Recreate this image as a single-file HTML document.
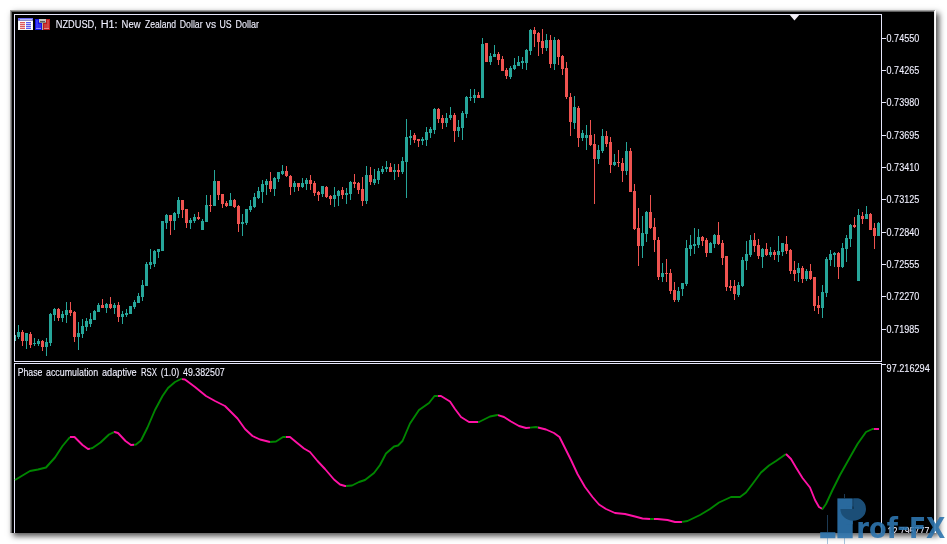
<!DOCTYPE html>
<html lang="en"><head><meta charset="utf-8"><title>NZDUSD, H1</title>
<style>
html,body{margin:0;padding:0;background:#fff;}
body{width:947px;height:544px;overflow:hidden;position:relative;font-family:"Liberation Sans",sans-serif;}
#win{position:absolute;left:10px;top:10px;width:926px;height:523px;background:#000;box-shadow:3px 3px 6px rgba(0,0,0,.7);}
svg{position:absolute;left:0;top:0;}
.t{font-family:"Liberation Sans",sans-serif;font-size:10px;fill:#f0f0ff;stroke:#f0f0ff;stroke-width:.1px;}
.wm{font-family:"DejaVu Sans","Liberation Sans",sans-serif;font-weight:bold;font-size:28px;fill:#2e75ae;}
</style></head><body>
<div id="win"></div>
<svg width="947" height="544" viewBox="0 0 947 544">
<g shape-rendering="crispEdges">
<rect x="10" y="10" width="926" height="1" fill="#a0a0a0"/>
<rect x="10" y="11" width="925" height="1" fill="#606060"/>
<rect x="10" y="10" width="1" height="523" fill="#a0a0a0"/>
<rect x="11" y="11" width="1" height="522" fill="#606060"/>
<rect x="934" y="11" width="1" height="522" fill="#eeeeee"/>
<rect x="935" y="10" width="1" height="523" fill="#ffffff"/>
<rect x="14" y="14" width="868" height="1" fill="#e6e6fa"/>
<rect x="14" y="14" width="1" height="348" fill="#e6e6fa"/>
<rect x="14" y="363" width="1" height="170" fill="#e6e6fa"/>
<rect x="14" y="361" width="868" height="1" fill="#e6e6fa"/>
<rect x="14" y="363" width="868" height="1" fill="#e6e6fa"/>
<rect x="881" y="14" width="1" height="348" fill="#e6e6fa"/>
<rect x="881" y="363" width="1" height="170" fill="#e6e6fa"/>
<rect x="882" y="38" width="4" height="1" fill="#e6e6fa"/>
<rect x="882" y="70" width="4" height="1" fill="#e6e6fa"/>
<rect x="882" y="102" width="4" height="1" fill="#e6e6fa"/>
<rect x="882" y="135" width="4" height="1" fill="#e6e6fa"/>
<rect x="882" y="167" width="4" height="1" fill="#e6e6fa"/>
<rect x="882" y="199" width="4" height="1" fill="#e6e6fa"/>
<rect x="882" y="232" width="4" height="1" fill="#e6e6fa"/>
<rect x="882" y="264" width="4" height="1" fill="#e6e6fa"/>
<rect x="882" y="296" width="4" height="1" fill="#e6e6fa"/>
<rect x="882" y="329" width="4" height="1" fill="#e6e6fa"/>
<rect x="882" y="364" width="4" height="1" fill="#e6e6fa"/>
</g>
<path d="M789.4 14.6 L799.6 14.6 L794.5 20.4 Z" fill="#f2eef4"/>
<g shape-rendering="crispEdges">
<rect x="15" y="335" width="1" height="6" fill="#4fc0b5"/>
<rect x="18" y="325" width="1" height="14" fill="#26a69a"/>
<rect x="17" y="332" width="3" height="5" fill="#26a69a"/>
<rect x="22" y="330" width="1" height="16" fill="#ef5350"/>
<rect x="21" y="332" width="3" height="9" fill="#ef5350"/>
<rect x="26" y="333" width="1" height="16" fill="#26a69a"/>
<rect x="25" y="333" width="3" height="8" fill="#26a69a"/>
<rect x="30" y="332" width="1" height="16" fill="#ef5350"/>
<rect x="29" y="334" width="3" height="11" fill="#ef5350"/>
<rect x="34" y="338" width="1" height="8" fill="#26a69a"/>
<rect x="33" y="343" width="3" height="1" fill="#26a69a"/>
<rect x="38" y="339" width="1" height="7" fill="#26a69a"/>
<rect x="37" y="341" width="3" height="3" fill="#26a69a"/>
<rect x="42" y="340" width="1" height="11" fill="#ef5350"/>
<rect x="41" y="341" width="3" height="6" fill="#ef5350"/>
<rect x="46" y="338" width="1" height="18" fill="#26a69a"/>
<rect x="45" y="342" width="3" height="5" fill="#26a69a"/>
<rect x="50" y="313" width="1" height="33" fill="#26a69a"/>
<rect x="49" y="314" width="3" height="29" fill="#26a69a"/>
<rect x="54" y="308" width="1" height="13" fill="#26a69a"/>
<rect x="53" y="309" width="3" height="6" fill="#26a69a"/>
<rect x="58" y="308" width="1" height="13" fill="#ef5350"/>
<rect x="57" y="309" width="3" height="9" fill="#ef5350"/>
<rect x="62" y="311" width="1" height="11" fill="#26a69a"/>
<rect x="61" y="314" width="3" height="4" fill="#26a69a"/>
<rect x="66" y="302" width="1" height="21" fill="#26a69a"/>
<rect x="65" y="310" width="3" height="5" fill="#26a69a"/>
<rect x="70" y="302" width="1" height="14" fill="#ef5350"/>
<rect x="69" y="310" width="3" height="3" fill="#ef5350"/>
<rect x="74" y="311" width="1" height="31" fill="#ef5350"/>
<rect x="73" y="312" width="3" height="25" fill="#ef5350"/>
<rect x="78" y="322" width="1" height="28" fill="#26a69a"/>
<rect x="77" y="333" width="3" height="4" fill="#26a69a"/>
<rect x="82" y="319" width="1" height="19" fill="#26a69a"/>
<rect x="81" y="326" width="3" height="8" fill="#26a69a"/>
<rect x="86" y="318" width="1" height="13" fill="#26a69a"/>
<rect x="85" y="321" width="3" height="6" fill="#26a69a"/>
<rect x="90" y="313" width="1" height="14" fill="#26a69a"/>
<rect x="89" y="319" width="3" height="5" fill="#26a69a"/>
<rect x="94" y="310" width="1" height="10" fill="#26a69a"/>
<rect x="93" y="311" width="3" height="9" fill="#26a69a"/>
<rect x="98" y="303" width="1" height="9" fill="#26a69a"/>
<rect x="97" y="305" width="3" height="7" fill="#26a69a"/>
<rect x="102" y="299" width="1" height="9" fill="#ef5350"/>
<rect x="101" y="305" width="3" height="3" fill="#ef5350"/>
<rect x="106" y="303" width="1" height="10" fill="#26a69a"/>
<rect x="105" y="304" width="3" height="4" fill="#26a69a"/>
<rect x="110" y="297" width="1" height="12" fill="#ef5350"/>
<rect x="109" y="304" width="3" height="4" fill="#ef5350"/>
<rect x="114" y="303" width="1" height="11" fill="#26a69a"/>
<rect x="113" y="305" width="3" height="3" fill="#26a69a"/>
<rect x="118" y="302" width="1" height="20" fill="#ef5350"/>
<rect x="117" y="305" width="3" height="12" fill="#ef5350"/>
<rect x="122" y="311" width="1" height="13" fill="#26a69a"/>
<rect x="121" y="314" width="3" height="3" fill="#26a69a"/>
<rect x="126" y="309" width="1" height="8" fill="#26a69a"/>
<rect x="125" y="313" width="3" height="2" fill="#26a69a"/>
<rect x="130" y="306" width="1" height="8" fill="#26a69a"/>
<rect x="129" y="306" width="3" height="8" fill="#26a69a"/>
<rect x="134" y="300" width="1" height="9" fill="#26a69a"/>
<rect x="133" y="302" width="3" height="5" fill="#26a69a"/>
<rect x="138" y="293" width="1" height="10" fill="#26a69a"/>
<rect x="137" y="296" width="3" height="7" fill="#26a69a"/>
<rect x="142" y="280" width="1" height="21" fill="#26a69a"/>
<rect x="141" y="285" width="3" height="12" fill="#26a69a"/>
<rect x="146" y="262" width="1" height="24" fill="#26a69a"/>
<rect x="145" y="264" width="3" height="22" fill="#26a69a"/>
<rect x="150" y="249" width="1" height="20" fill="#26a69a"/>
<rect x="149" y="262" width="3" height="3" fill="#26a69a"/>
<rect x="154" y="250" width="1" height="17" fill="#26a69a"/>
<rect x="153" y="251" width="3" height="13" fill="#26a69a"/>
<rect x="158" y="249" width="1" height="9" fill="#26a69a"/>
<rect x="157" y="249" width="3" height="3" fill="#26a69a"/>
<rect x="162" y="221" width="1" height="30" fill="#26a69a"/>
<rect x="161" y="221" width="3" height="30" fill="#26a69a"/>
<rect x="166" y="214" width="1" height="15" fill="#26a69a"/>
<rect x="165" y="215" width="3" height="8" fill="#26a69a"/>
<rect x="170" y="215" width="1" height="20" fill="#ef5350"/>
<rect x="169" y="215" width="3" height="6" fill="#ef5350"/>
<rect x="174" y="212" width="1" height="18" fill="#26a69a"/>
<rect x="173" y="213" width="3" height="8" fill="#26a69a"/>
<rect x="178" y="197" width="1" height="21" fill="#26a69a"/>
<rect x="177" y="200" width="3" height="14" fill="#26a69a"/>
<rect x="182" y="200" width="1" height="18" fill="#ef5350"/>
<rect x="181" y="200" width="3" height="10" fill="#ef5350"/>
<rect x="186" y="209" width="1" height="19" fill="#ef5350"/>
<rect x="185" y="209" width="3" height="14" fill="#ef5350"/>
<rect x="190" y="218" width="1" height="11" fill="#26a69a"/>
<rect x="189" y="220" width="3" height="3" fill="#26a69a"/>
<rect x="194" y="214" width="1" height="9" fill="#26a69a"/>
<rect x="193" y="217" width="3" height="4" fill="#26a69a"/>
<rect x="198" y="212" width="1" height="8" fill="#ef5350"/>
<rect x="197" y="217" width="3" height="2" fill="#ef5350"/>
<rect x="202" y="219" width="1" height="11" fill="#26a69a"/>
<rect x="201" y="221" width="3" height="9" fill="#26a69a"/>
<rect x="206" y="195" width="1" height="27" fill="#26a69a"/>
<rect x="205" y="205" width="3" height="17" fill="#26a69a"/>
<rect x="210" y="195" width="1" height="17" fill="#ef5350"/>
<rect x="209" y="205" width="3" height="1" fill="#ef5350"/>
<rect x="214" y="170" width="1" height="36" fill="#26a69a"/>
<rect x="213" y="181" width="3" height="25" fill="#26a69a"/>
<rect x="218" y="181" width="1" height="19" fill="#ef5350"/>
<rect x="217" y="181" width="3" height="14" fill="#ef5350"/>
<rect x="222" y="194" width="1" height="14" fill="#ef5350"/>
<rect x="221" y="194" width="3" height="10" fill="#ef5350"/>
<rect x="226" y="201" width="1" height="6" fill="#ef5350"/>
<rect x="225" y="203" width="3" height="3" fill="#ef5350"/>
<rect x="230" y="193" width="1" height="13" fill="#26a69a"/>
<rect x="229" y="200" width="3" height="6" fill="#26a69a"/>
<rect x="234" y="199" width="1" height="9" fill="#ef5350"/>
<rect x="233" y="200" width="3" height="7" fill="#ef5350"/>
<rect x="238" y="205" width="1" height="27" fill="#ef5350"/>
<rect x="237" y="206" width="3" height="18" fill="#ef5350"/>
<rect x="242" y="214" width="1" height="22" fill="#26a69a"/>
<rect x="241" y="222" width="3" height="2" fill="#26a69a"/>
<rect x="246" y="209" width="1" height="16" fill="#26a69a"/>
<rect x="245" y="209" width="3" height="14" fill="#26a69a"/>
<rect x="250" y="200" width="1" height="12" fill="#26a69a"/>
<rect x="249" y="206" width="3" height="4" fill="#26a69a"/>
<rect x="254" y="193" width="1" height="15" fill="#26a69a"/>
<rect x="253" y="197" width="3" height="10" fill="#26a69a"/>
<rect x="258" y="187" width="1" height="12" fill="#26a69a"/>
<rect x="257" y="191" width="3" height="7" fill="#26a69a"/>
<rect x="262" y="180" width="1" height="23" fill="#26a69a"/>
<rect x="261" y="184" width="3" height="8" fill="#26a69a"/>
<rect x="266" y="179" width="1" height="16" fill="#26a69a"/>
<rect x="265" y="181" width="3" height="4" fill="#26a69a"/>
<rect x="270" y="172" width="1" height="20" fill="#ef5350"/>
<rect x="269" y="181" width="3" height="8" fill="#ef5350"/>
<rect x="274" y="177" width="1" height="19" fill="#26a69a"/>
<rect x="273" y="178" width="3" height="11" fill="#26a69a"/>
<rect x="278" y="172" width="1" height="10" fill="#26a69a"/>
<rect x="277" y="172" width="3" height="7" fill="#26a69a"/>
<rect x="282" y="165" width="1" height="10" fill="#26a69a"/>
<rect x="281" y="171" width="3" height="3" fill="#26a69a"/>
<rect x="286" y="166" width="1" height="11" fill="#ef5350"/>
<rect x="285" y="171" width="3" height="5" fill="#ef5350"/>
<rect x="290" y="175" width="1" height="20" fill="#ef5350"/>
<rect x="289" y="176" width="3" height="11" fill="#ef5350"/>
<rect x="294" y="181" width="1" height="11" fill="#26a69a"/>
<rect x="293" y="183" width="3" height="4" fill="#26a69a"/>
<rect x="298" y="183" width="1" height="8" fill="#ef5350"/>
<rect x="297" y="183" width="3" height="4" fill="#ef5350"/>
<rect x="302" y="178" width="1" height="10" fill="#26a69a"/>
<rect x="301" y="183" width="3" height="4" fill="#26a69a"/>
<rect x="306" y="178" width="1" height="12" fill="#26a69a"/>
<rect x="305" y="180" width="3" height="4" fill="#26a69a"/>
<rect x="310" y="175" width="1" height="15" fill="#ef5350"/>
<rect x="309" y="180" width="3" height="4" fill="#ef5350"/>
<rect x="314" y="181" width="1" height="15" fill="#ef5350"/>
<rect x="313" y="183" width="3" height="10" fill="#ef5350"/>
<rect x="318" y="191" width="1" height="10" fill="#ef5350"/>
<rect x="317" y="192" width="3" height="3" fill="#ef5350"/>
<rect x="322" y="186" width="1" height="11" fill="#26a69a"/>
<rect x="321" y="186" width="3" height="8" fill="#26a69a"/>
<rect x="326" y="186" width="1" height="12" fill="#ef5350"/>
<rect x="325" y="187" width="3" height="10" fill="#ef5350"/>
<rect x="330" y="195" width="1" height="10" fill="#ef5350"/>
<rect x="329" y="196" width="3" height="3" fill="#ef5350"/>
<rect x="334" y="187" width="1" height="20" fill="#26a69a"/>
<rect x="333" y="195" width="3" height="4" fill="#26a69a"/>
<rect x="338" y="190" width="1" height="16" fill="#26a69a"/>
<rect x="337" y="191" width="3" height="5" fill="#26a69a"/>
<rect x="342" y="187" width="1" height="12" fill="#ef5350"/>
<rect x="341" y="190" width="3" height="5" fill="#ef5350"/>
<rect x="346" y="188" width="1" height="16" fill="#26a69a"/>
<rect x="345" y="193" width="3" height="2" fill="#26a69a"/>
<rect x="350" y="181" width="1" height="19" fill="#26a69a"/>
<rect x="349" y="182" width="3" height="12" fill="#26a69a"/>
<rect x="354" y="174" width="1" height="14" fill="#ef5350"/>
<rect x="353" y="182" width="3" height="2" fill="#ef5350"/>
<rect x="358" y="182" width="1" height="12" fill="#ef5350"/>
<rect x="357" y="183" width="3" height="7" fill="#ef5350"/>
<rect x="362" y="177" width="1" height="29" fill="#ef5350"/>
<rect x="361" y="189" width="3" height="12" fill="#ef5350"/>
<rect x="366" y="166" width="1" height="38" fill="#26a69a"/>
<rect x="365" y="175" width="3" height="26" fill="#26a69a"/>
<rect x="370" y="167" width="1" height="18" fill="#ef5350"/>
<rect x="369" y="175" width="3" height="7" fill="#ef5350"/>
<rect x="374" y="169" width="1" height="16" fill="#26a69a"/>
<rect x="373" y="179" width="3" height="4" fill="#26a69a"/>
<rect x="378" y="168" width="1" height="16" fill="#26a69a"/>
<rect x="377" y="171" width="3" height="9" fill="#26a69a"/>
<rect x="382" y="166" width="1" height="8" fill="#26a69a"/>
<rect x="381" y="169" width="3" height="3" fill="#26a69a"/>
<rect x="386" y="161" width="1" height="11" fill="#26a69a"/>
<rect x="385" y="167" width="3" height="2" fill="#26a69a"/>
<rect x="390" y="163" width="1" height="9" fill="#ef5350"/>
<rect x="389" y="167" width="3" height="5" fill="#ef5350"/>
<rect x="394" y="164" width="1" height="16" fill="#26a69a"/>
<rect x="393" y="170" width="3" height="2" fill="#26a69a"/>
<rect x="398" y="164" width="1" height="13" fill="#ef5350"/>
<rect x="397" y="170" width="3" height="2" fill="#ef5350"/>
<rect x="402" y="157" width="1" height="17" fill="#26a69a"/>
<rect x="401" y="161" width="3" height="11" fill="#26a69a"/>
<rect x="406" y="119" width="1" height="79" fill="#26a69a"/>
<rect x="405" y="137" width="3" height="25" fill="#26a69a"/>
<rect x="410" y="130" width="1" height="15" fill="#26a69a"/>
<rect x="409" y="136" width="3" height="2" fill="#26a69a"/>
<rect x="414" y="133" width="1" height="10" fill="#ef5350"/>
<rect x="413" y="135" width="3" height="5" fill="#ef5350"/>
<rect x="418" y="139" width="1" height="8" fill="#ef5350"/>
<rect x="417" y="139" width="3" height="2" fill="#ef5350"/>
<rect x="422" y="137" width="1" height="8" fill="#26a69a"/>
<rect x="421" y="139" width="3" height="2" fill="#26a69a"/>
<rect x="426" y="127" width="1" height="19" fill="#26a69a"/>
<rect x="425" y="132" width="3" height="8" fill="#26a69a"/>
<rect x="430" y="127" width="1" height="11" fill="#26a69a"/>
<rect x="429" y="129" width="3" height="4" fill="#26a69a"/>
<rect x="434" y="108" width="1" height="26" fill="#26a69a"/>
<rect x="433" y="109" width="3" height="21" fill="#26a69a"/>
<rect x="438" y="108" width="1" height="15" fill="#ef5350"/>
<rect x="437" y="109" width="3" height="10" fill="#ef5350"/>
<rect x="442" y="115" width="1" height="14" fill="#ef5350"/>
<rect x="441" y="118" width="3" height="5" fill="#ef5350"/>
<rect x="446" y="113" width="1" height="14" fill="#26a69a"/>
<rect x="445" y="118" width="3" height="5" fill="#26a69a"/>
<rect x="450" y="107" width="1" height="13" fill="#26a69a"/>
<rect x="449" y="115" width="3" height="3" fill="#26a69a"/>
<rect x="454" y="113" width="1" height="29" fill="#ef5350"/>
<rect x="453" y="115" width="3" height="16" fill="#ef5350"/>
<rect x="458" y="120" width="1" height="17" fill="#26a69a"/>
<rect x="457" y="127" width="3" height="4" fill="#26a69a"/>
<rect x="462" y="111" width="1" height="29" fill="#26a69a"/>
<rect x="461" y="113" width="3" height="15" fill="#26a69a"/>
<rect x="466" y="96" width="1" height="22" fill="#26a69a"/>
<rect x="465" y="97" width="3" height="17" fill="#26a69a"/>
<rect x="470" y="89" width="1" height="12" fill="#26a69a"/>
<rect x="469" y="97" width="3" height="1" fill="#26a69a"/>
<rect x="474" y="89" width="1" height="14" fill="#26a69a"/>
<rect x="473" y="95" width="3" height="3" fill="#26a69a"/>
<rect x="478" y="92" width="1" height="6" fill="#ef5350"/>
<rect x="477" y="95" width="3" height="3" fill="#ef5350"/>
<rect x="482" y="38" width="1" height="60" fill="#26a69a"/>
<rect x="481" y="44" width="3" height="54" fill="#26a69a"/>
<rect x="486" y="43" width="1" height="19" fill="#ef5350"/>
<rect x="485" y="43" width="3" height="19" fill="#ef5350"/>
<rect x="490" y="53" width="1" height="12" fill="#26a69a"/>
<rect x="489" y="56" width="3" height="6" fill="#26a69a"/>
<rect x="494" y="45" width="1" height="12" fill="#26a69a"/>
<rect x="493" y="54" width="3" height="3" fill="#26a69a"/>
<rect x="498" y="52" width="1" height="13" fill="#ef5350"/>
<rect x="497" y="54" width="3" height="6" fill="#ef5350"/>
<rect x="502" y="56" width="1" height="15" fill="#ef5350"/>
<rect x="501" y="59" width="3" height="12" fill="#ef5350"/>
<rect x="506" y="68" width="1" height="11" fill="#ef5350"/>
<rect x="505" y="70" width="3" height="6" fill="#ef5350"/>
<rect x="510" y="66" width="1" height="13" fill="#26a69a"/>
<rect x="509" y="68" width="3" height="9" fill="#26a69a"/>
<rect x="514" y="58" width="1" height="12" fill="#26a69a"/>
<rect x="513" y="65" width="3" height="4" fill="#26a69a"/>
<rect x="518" y="56" width="1" height="10" fill="#26a69a"/>
<rect x="517" y="62" width="3" height="4" fill="#26a69a"/>
<rect x="522" y="57" width="1" height="12" fill="#26a69a"/>
<rect x="521" y="61" width="3" height="2" fill="#26a69a"/>
<rect x="526" y="49" width="1" height="21" fill="#26a69a"/>
<rect x="525" y="50" width="3" height="13" fill="#26a69a"/>
<rect x="530" y="29" width="1" height="26" fill="#26a69a"/>
<rect x="529" y="30" width="3" height="21" fill="#26a69a"/>
<rect x="534" y="27" width="1" height="20" fill="#ef5350"/>
<rect x="533" y="30" width="3" height="4" fill="#ef5350"/>
<rect x="538" y="32" width="1" height="24" fill="#ef5350"/>
<rect x="537" y="33" width="3" height="9" fill="#ef5350"/>
<rect x="542" y="29" width="1" height="25" fill="#ef5350"/>
<rect x="541" y="41" width="3" height="7" fill="#ef5350"/>
<rect x="546" y="34" width="1" height="17" fill="#26a69a"/>
<rect x="545" y="40" width="3" height="8" fill="#26a69a"/>
<rect x="550" y="35" width="1" height="33" fill="#ef5350"/>
<rect x="549" y="40" width="3" height="24" fill="#ef5350"/>
<rect x="554" y="37" width="1" height="33" fill="#26a69a"/>
<rect x="553" y="40" width="3" height="24" fill="#26a69a"/>
<rect x="558" y="39" width="1" height="26" fill="#ef5350"/>
<rect x="557" y="40" width="3" height="17" fill="#ef5350"/>
<rect x="562" y="55" width="1" height="20" fill="#ef5350"/>
<rect x="561" y="56" width="3" height="13" fill="#ef5350"/>
<rect x="566" y="62" width="1" height="37" fill="#ef5350"/>
<rect x="565" y="68" width="3" height="29" fill="#ef5350"/>
<rect x="570" y="93" width="1" height="43" fill="#ef5350"/>
<rect x="569" y="97" width="3" height="25" fill="#ef5350"/>
<rect x="574" y="96" width="1" height="33" fill="#26a69a"/>
<rect x="573" y="107" width="3" height="16" fill="#26a69a"/>
<rect x="578" y="106" width="1" height="41" fill="#ef5350"/>
<rect x="577" y="108" width="3" height="30" fill="#ef5350"/>
<rect x="582" y="130" width="1" height="11" fill="#26a69a"/>
<rect x="581" y="133" width="3" height="5" fill="#26a69a"/>
<rect x="586" y="125" width="1" height="25" fill="#26a69a"/>
<rect x="585" y="135" width="3" height="3" fill="#26a69a"/>
<rect x="590" y="120" width="1" height="26" fill="#ef5350"/>
<rect x="589" y="135" width="3" height="10" fill="#ef5350"/>
<rect x="594" y="134" width="1" height="70" fill="#ef5350"/>
<rect x="593" y="144" width="3" height="15" fill="#ef5350"/>
<rect x="598" y="145" width="1" height="19" fill="#26a69a"/>
<rect x="597" y="150" width="3" height="9" fill="#26a69a"/>
<rect x="602" y="129" width="1" height="24" fill="#26a69a"/>
<rect x="601" y="136" width="3" height="15" fill="#26a69a"/>
<rect x="606" y="131" width="1" height="16" fill="#ef5350"/>
<rect x="605" y="136" width="3" height="8" fill="#ef5350"/>
<rect x="610" y="137" width="1" height="36" fill="#ef5350"/>
<rect x="609" y="142" width="3" height="23" fill="#ef5350"/>
<rect x="614" y="154" width="1" height="12" fill="#26a69a"/>
<rect x="613" y="162" width="3" height="3" fill="#26a69a"/>
<rect x="618" y="150" width="1" height="17" fill="#ef5350"/>
<rect x="617" y="162" width="3" height="1" fill="#ef5350"/>
<rect x="622" y="158" width="1" height="24" fill="#ef5350"/>
<rect x="621" y="163" width="3" height="8" fill="#ef5350"/>
<rect x="626" y="142" width="1" height="33" fill="#26a69a"/>
<rect x="625" y="151" width="3" height="20" fill="#26a69a"/>
<rect x="630" y="148" width="1" height="44" fill="#ef5350"/>
<rect x="629" y="151" width="3" height="41" fill="#ef5350"/>
<rect x="634" y="184" width="1" height="46" fill="#ef5350"/>
<rect x="633" y="191" width="3" height="38" fill="#ef5350"/>
<rect x="638" y="208" width="1" height="58" fill="#ef5350"/>
<rect x="637" y="228" width="3" height="18" fill="#ef5350"/>
<rect x="642" y="216" width="1" height="42" fill="#26a69a"/>
<rect x="641" y="233" width="3" height="13" fill="#26a69a"/>
<rect x="646" y="211" width="1" height="31" fill="#26a69a"/>
<rect x="645" y="212" width="3" height="22" fill="#26a69a"/>
<rect x="650" y="195" width="1" height="34" fill="#ef5350"/>
<rect x="649" y="212" width="3" height="16" fill="#ef5350"/>
<rect x="654" y="218" width="1" height="34" fill="#ef5350"/>
<rect x="653" y="227" width="3" height="13" fill="#ef5350"/>
<rect x="658" y="237" width="1" height="43" fill="#ef5350"/>
<rect x="657" y="240" width="3" height="37" fill="#ef5350"/>
<rect x="662" y="263" width="1" height="19" fill="#26a69a"/>
<rect x="661" y="273" width="3" height="4" fill="#26a69a"/>
<rect x="666" y="259" width="1" height="23" fill="#ef5350"/>
<rect x="665" y="273" width="3" height="1" fill="#ef5350"/>
<rect x="670" y="269" width="1" height="25" fill="#ef5350"/>
<rect x="669" y="273" width="3" height="18" fill="#ef5350"/>
<rect x="674" y="282" width="1" height="20" fill="#ef5350"/>
<rect x="673" y="290" width="3" height="10" fill="#ef5350"/>
<rect x="678" y="287" width="1" height="15" fill="#26a69a"/>
<rect x="677" y="291" width="3" height="9" fill="#26a69a"/>
<rect x="682" y="283" width="1" height="13" fill="#26a69a"/>
<rect x="681" y="283" width="3" height="6" fill="#26a69a"/>
<rect x="686" y="240" width="1" height="46" fill="#26a69a"/>
<rect x="685" y="248" width="3" height="36" fill="#26a69a"/>
<rect x="690" y="235" width="1" height="21" fill="#26a69a"/>
<rect x="689" y="245" width="3" height="4" fill="#26a69a"/>
<rect x="694" y="228" width="1" height="26" fill="#26a69a"/>
<rect x="693" y="244" width="3" height="2" fill="#26a69a"/>
<rect x="698" y="229" width="1" height="19" fill="#26a69a"/>
<rect x="697" y="237" width="3" height="8" fill="#26a69a"/>
<rect x="702" y="236" width="1" height="10" fill="#ef5350"/>
<rect x="701" y="237" width="3" height="4" fill="#ef5350"/>
<rect x="706" y="238" width="1" height="19" fill="#ef5350"/>
<rect x="705" y="240" width="3" height="13" fill="#ef5350"/>
<rect x="710" y="242" width="1" height="11" fill="#26a69a"/>
<rect x="709" y="243" width="3" height="10" fill="#26a69a"/>
<rect x="714" y="234" width="1" height="14" fill="#26a69a"/>
<rect x="713" y="235" width="3" height="9" fill="#26a69a"/>
<rect x="718" y="222" width="1" height="23" fill="#ef5350"/>
<rect x="717" y="235" width="3" height="9" fill="#ef5350"/>
<rect x="722" y="240" width="1" height="25" fill="#ef5350"/>
<rect x="721" y="243" width="3" height="15" fill="#ef5350"/>
<rect x="726" y="256" width="1" height="35" fill="#ef5350"/>
<rect x="725" y="256" width="3" height="31" fill="#ef5350"/>
<rect x="730" y="280" width="1" height="11" fill="#ef5350"/>
<rect x="729" y="286" width="3" height="2" fill="#ef5350"/>
<rect x="734" y="280" width="1" height="20" fill="#ef5350"/>
<rect x="733" y="286" width="3" height="8" fill="#ef5350"/>
<rect x="738" y="282" width="1" height="15" fill="#26a69a"/>
<rect x="737" y="285" width="3" height="10" fill="#26a69a"/>
<rect x="742" y="257" width="1" height="30" fill="#26a69a"/>
<rect x="741" y="260" width="3" height="26" fill="#26a69a"/>
<rect x="746" y="241" width="1" height="29" fill="#26a69a"/>
<rect x="745" y="254" width="3" height="7" fill="#26a69a"/>
<rect x="750" y="235" width="1" height="22" fill="#26a69a"/>
<rect x="749" y="240" width="3" height="15" fill="#26a69a"/>
<rect x="754" y="233" width="1" height="19" fill="#ef5350"/>
<rect x="753" y="240" width="3" height="6" fill="#ef5350"/>
<rect x="758" y="239" width="1" height="20" fill="#ef5350"/>
<rect x="757" y="245" width="3" height="11" fill="#ef5350"/>
<rect x="762" y="248" width="1" height="20" fill="#26a69a"/>
<rect x="761" y="249" width="3" height="8" fill="#26a69a"/>
<rect x="766" y="243" width="1" height="13" fill="#ef5350"/>
<rect x="765" y="249" width="3" height="6" fill="#ef5350"/>
<rect x="770" y="247" width="1" height="10" fill="#26a69a"/>
<rect x="769" y="252" width="3" height="3" fill="#26a69a"/>
<rect x="774" y="250" width="1" height="10" fill="#ef5350"/>
<rect x="773" y="252" width="3" height="3" fill="#ef5350"/>
<rect x="778" y="236" width="1" height="26" fill="#26a69a"/>
<rect x="777" y="251" width="3" height="4" fill="#26a69a"/>
<rect x="782" y="243" width="1" height="13" fill="#26a69a"/>
<rect x="781" y="243" width="3" height="9" fill="#26a69a"/>
<rect x="786" y="236" width="1" height="18" fill="#ef5350"/>
<rect x="785" y="244" width="3" height="7" fill="#ef5350"/>
<rect x="790" y="249" width="1" height="25" fill="#ef5350"/>
<rect x="789" y="250" width="3" height="21" fill="#ef5350"/>
<rect x="794" y="261" width="1" height="20" fill="#ef5350"/>
<rect x="793" y="270" width="3" height="4" fill="#ef5350"/>
<rect x="798" y="263" width="1" height="19" fill="#26a69a"/>
<rect x="797" y="268" width="3" height="5" fill="#26a69a"/>
<rect x="802" y="266" width="1" height="17" fill="#ef5350"/>
<rect x="801" y="268" width="3" height="11" fill="#ef5350"/>
<rect x="806" y="269" width="1" height="12" fill="#26a69a"/>
<rect x="805" y="271" width="3" height="8" fill="#26a69a"/>
<rect x="810" y="264" width="1" height="16" fill="#ef5350"/>
<rect x="809" y="271" width="3" height="8" fill="#ef5350"/>
<rect x="814" y="277" width="1" height="34" fill="#ef5350"/>
<rect x="813" y="277" width="3" height="29" fill="#ef5350"/>
<rect x="818" y="296" width="1" height="18" fill="#ef5350"/>
<rect x="817" y="305" width="3" height="3" fill="#ef5350"/>
<rect x="822" y="285" width="1" height="33" fill="#26a69a"/>
<rect x="821" y="292" width="3" height="16" fill="#26a69a"/>
<rect x="826" y="257" width="1" height="40" fill="#26a69a"/>
<rect x="825" y="259" width="3" height="34" fill="#26a69a"/>
<rect x="830" y="250" width="1" height="16" fill="#26a69a"/>
<rect x="829" y="254" width="3" height="6" fill="#26a69a"/>
<rect x="834" y="252" width="1" height="15" fill="#26a69a"/>
<rect x="833" y="253" width="3" height="2" fill="#26a69a"/>
<rect x="838" y="252" width="1" height="27" fill="#ef5350"/>
<rect x="837" y="253" width="3" height="14" fill="#ef5350"/>
<rect x="842" y="243" width="1" height="25" fill="#26a69a"/>
<rect x="841" y="248" width="3" height="19" fill="#26a69a"/>
<rect x="846" y="235" width="1" height="27" fill="#26a69a"/>
<rect x="845" y="238" width="3" height="11" fill="#26a69a"/>
<rect x="850" y="224" width="1" height="23" fill="#26a69a"/>
<rect x="849" y="225" width="3" height="14" fill="#26a69a"/>
<rect x="854" y="217" width="1" height="11" fill="#ef5350"/>
<rect x="853" y="225" width="3" height="2" fill="#ef5350"/>
<rect x="858" y="209" width="1" height="72" fill="#26a69a"/>
<rect x="857" y="215" width="3" height="66" fill="#26a69a"/>
<rect x="862" y="212" width="1" height="12" fill="#ef5350"/>
<rect x="861" y="216" width="3" height="3" fill="#ef5350"/>
<rect x="866" y="206" width="1" height="13" fill="#26a69a"/>
<rect x="865" y="214" width="3" height="5" fill="#26a69a"/>
<rect x="870" y="213" width="1" height="17" fill="#ef5350"/>
<rect x="869" y="214" width="3" height="16" fill="#ef5350"/>
<rect x="874" y="223" width="1" height="26" fill="#ef5350"/>
<rect x="873" y="228" width="3" height="8" fill="#ef5350"/>
<rect x="878" y="222" width="1" height="14" fill="#26a69a"/>
<rect x="877" y="223" width="3" height="13" fill="#26a69a"/>
</g>
<g fill="none" stroke-width="1.9" stroke-linejoin="round" stroke-linecap="butt">
<polyline points="15,480 22.5,475.5 30,471 38,469.5 46,467.5 55,457.5 62.5,446 70,437" stroke="#008600"/>
<polyline points="70,437 74.5,437 82.5,445 88,449 90,448.556" stroke="#ff12a6"/>
<polyline points="90,448.556 92.5,448 100.5,442.5 109,434.5 114,432.227" stroke="#008600"/>
<polyline points="114,432.227 114.5,432 118,433 125.5,441 131,445 134,444.7" stroke="#ff12a6"/>
<polyline points="134,444.7 136,444.5 141,440.5 147.5,427.5 155,410 162.5,396 168,388 175,382 181,379 182,379.125" stroke="#008600"/>
<polyline points="182,379.125 185,379.5 195,387 206,396 215,401 225,406 235,416 237.5,418.5 245,429 252.5,436 260,439.5 270,442" stroke="#ff12a6"/>
<polyline points="270,442 276,441.5 283,437 286,437" stroke="#008600"/>
<polyline points="286,437 290,437 296,442 304,448.5 310,452 317.5,461 325,469 334,479.5 340,484.5 345,486 346,485.929" stroke="#ff12a6"/>
<polyline points="346,485.929 352,485.5 359,482 365,480 374,473 380,465 386,453.5 394,446.5 398,445.5 402.5,441 410,423.5 419,410 429,403 434.5,396 438,396" stroke="#008600"/>
<polyline points="438,396 441,396 450,401.5 455,409 461,417 469,422 478,422" stroke="#ff12a6"/>
<polyline points="478,422 479,422 490,416.5 497.5,415 498,415.154" stroke="#008600"/>
<polyline points="498,415.154 504,417 511,421.5 519,426 526,428 530,427.6" stroke="#ff12a6"/>
<polyline points="530,427.6 536,427 538,427.5" stroke="#008600"/>
<polyline points="538,427.5 546,429.5 554,433 559.5,437 565,448 571,460 577.5,474 585,487 592.5,497 599,504.5 606,509 615,513 625,514 635,516.5 642.5,518.5 650,519" stroke="#ff12a6"/>
<polyline points="650,519 654,519" stroke="#008600"/>
<polyline points="654,519 657.5,519 667.5,520 675,522 681,522 682,521.846" stroke="#ff12a6"/>
<polyline points="682,521.846 687.5,521 700,515 710,509 719,502.5 731,497 740,497 746,492.5 752.5,484 761,472.5 769,465.5 776,461 786,454" stroke="#008600"/>
<polyline points="786,454 791,459 796,467.5 802.5,478 810,487.5 815,500 819,507 822,508.714" stroke="#ff12a6"/>
<polyline points="822,508.714 822.5,509 826,504 832.5,490 840,475 849,459 857.5,444 866,432 872.5,429 874,429" stroke="#008600"/>
<polyline points="874,429 879,429" stroke="#ff12a6"/>
</g>
<text class="t" transform="translate(886.6,42) scale(0.902,1)">0.74550</text>
<text class="t" transform="translate(886.6,74) scale(0.902,1)">0.74265</text>
<text class="t" transform="translate(886.6,106) scale(0.902,1)">0.73980</text>
<text class="t" transform="translate(886.6,139) scale(0.902,1)">0.73695</text>
<text class="t" transform="translate(886.6,171) scale(0.902,1)">0.73410</text>
<text class="t" transform="translate(886.6,203) scale(0.902,1)">0.73125</text>
<text class="t" transform="translate(886.6,236) scale(0.902,1)">0.72840</text>
<text class="t" transform="translate(886.6,268) scale(0.902,1)">0.72555</text>
<text class="t" transform="translate(886.6,300) scale(0.902,1)">0.72270</text>
<text class="t" transform="translate(886.6,333) scale(0.902,1)">0.71985</text>
<text class="t" transform="translate(886.6,372) scale(0.914,1)">97.216294</text>
<text class="t" y="28"><tspan x="55.7" textLength="41.2" lengthAdjust="spacingAndGlyphs">NZDUSD,</tspan> <tspan x="100.7" textLength="16.9" lengthAdjust="spacingAndGlyphs">H1:</tspan> <tspan x="121.6" textLength="19.0" lengthAdjust="spacingAndGlyphs">New</tspan> <tspan x="145.0" textLength="31.0" lengthAdjust="spacingAndGlyphs">Zealand</tspan> <tspan x="179.8" textLength="22.8" lengthAdjust="spacingAndGlyphs">Dollar</tspan> <tspan x="205.8" textLength="10.2" lengthAdjust="spacingAndGlyphs">vs</tspan> <tspan x="219.5" textLength="12.2" lengthAdjust="spacingAndGlyphs">US</tspan> <tspan x="235.5" textLength="23.5" lengthAdjust="spacingAndGlyphs">Dollar</tspan></text>
<text class="t" y="376"><tspan x="17.7" textLength="24.7" lengthAdjust="spacingAndGlyphs">Phase</tspan> <tspan x="46.0" textLength="52.2" lengthAdjust="spacingAndGlyphs">accumulation</tspan> <tspan x="102.0" textLength="34.7" lengthAdjust="spacingAndGlyphs">adaptive</tspan> <tspan x="140.9" textLength="16.1" lengthAdjust="spacingAndGlyphs">RSX</tspan> <tspan x="160.8" textLength="18.4" lengthAdjust="spacingAndGlyphs">(1.0)</tspan> <tspan x="183.0" textLength="41.8" lengthAdjust="spacingAndGlyphs">49.382507</tspan></text>
<g shape-rendering="crispEdges">
<rect x="18" y="18" width="15" height="12" fill="#f4f4f4"/>
<rect x="19" y="21" width="13" height="8" fill="#ffffff"/>
<rect x="18" y="18" width="15" height="2" fill="#6a6af6"/>
<rect x="20" y="19" width="12" height="1" fill="#b4b4fb"/>
<rect x="18" y="20" width="15" height="1" fill="#8c8cc4"/>
<rect x="20" y="22" width="5" height="7" fill="#f3c4c4"/>
<rect x="26" y="22" width="5" height="7" fill="#c8c8f6"/>
<rect x="20" y="22" width="5" height="1" fill="#dc5a5a"/><rect x="20" y="24" width="5" height="1" fill="#dc5a5a"/><rect x="20" y="26" width="5" height="1" fill="#dc5a5a"/><rect x="20" y="28" width="5" height="1" fill="#dc5a5a"/>
<rect x="26" y="22" width="5" height="1" fill="#5a5aee"/><rect x="26" y="24" width="5" height="1" fill="#5a5aee"/><rect x="26" y="26" width="5" height="1" fill="#5a5aee"/><rect x="26" y="28" width="5" height="1" fill="#5a5aee"/>
<path d="M35 19 H39 V23 H42 V30 H35 Z" fill="#1414e6"/>
<rect x="36" y="20" width="2" height="8" fill="#3a3af8"/><rect x="38" y="24" width="3" height="4" fill="#3030f0"/>
<path d="M50 19 H46 V23 H43 V30 H50 Z" fill="#b81c1c"/>
<rect x="47" y="20" width="2" height="8" fill="#d24444"/><rect x="44" y="24" width="3" height="4" fill="#cc3a3a"/>
<rect x="36" y="28" width="5" height="1" fill="#8c8cf4"/>
<rect x="44" y="28" width="5" height="1" fill="#dc8a8a"/>
<rect x="42" y="22" width="1" height="8" fill="#b4b4a4"/>
<rect x="39" y="19" width="7" height="4" fill="#c4c4c0"/><rect x="39" y="22" width="7" height="1" fill="#8a8a86"/>
<rect x="40" y="21" width="5" height="1" fill="#5c5c5c"/>
</g>
<clipPath id="cb"><rect x="880" y="520" width="56" height="13"/></clipPath>
<g clip-path="url(#cb)">
<text class="t" transform="translate(887.6,535) scale(0.884,1)">12.795777</text>
</g>
<g opacity=".45" fill="#3f7fb5" shape-rendering="crispEdges">
<rect x="827" y="515" width="1" height="17"/><rect x="827" y="538" width="1" height="6"/>
<rect x="844" y="494" width="1" height="4"/><rect x="844" y="538" width="1" height="6"/>
</g>
<g opacity=".9">
<rect x="820.2" y="532.2" width="15.2" height="6" fill="#2e75ae"/>
<rect x="837.4" y="498.4" width="15.3" height="39.8" fill="#2e75ae"/>
<clipPath id="pc"><rect x="838" y="498.2" width="30" height="30"/></clipPath>
<clipPath id="lp"><rect x="837.4" y="498.4" width="15.3" height="39.8"/><ellipse cx="853.2" cy="508.9" rx="11.4" ry="10.4"/></clipPath>
<g clip-path="url(#lp)"><text class="wm" transform="translate(833.8,538.2) scale(1.637,1.907)">P</text></g><path d="M853.2 497.1 A12.8 11.8 0 1 1 840.4 508.9 L853.2 508.9 Z" fill="#1e5784" clip-path="url(#pc)"/><rect x="852.5" y="498.4" width="0.9" height="10.6" fill="#143a58"/><text class="wm" transform="translate(856.3,537.6) scale(0.921,1)">rof</text><text class="wm" transform="translate(897,535.3) scale(1.06,0.85)">-</text><text class="wm" transform="translate(908.9,537.6) scale(0.896,1)">FX</text>
</g>
</svg>
</body></html>
